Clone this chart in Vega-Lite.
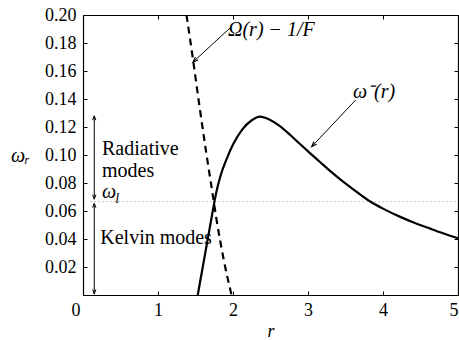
{
  "$schema": "https://vega.github.io/schema/vega-lite/v6.json",
  "width": 375,
  "height": 280,
  "autosize": "none",
  "padding": {"left": 83, "top": 15, "right": 1, "bottom": 45},
  "background": "white",
  "config": {
    "view": {"stroke": null},
    "text": {"font": "Liberation Serif, Times New Roman, serif"},
    "axis": {"labelFont": "Liberation Serif, Times New Roman, serif", "titleFont": "Liberation Serif, Times New Roman, serif", "labelFontSize": 18, "labelColor": "black", "domainColor": "black", "tickColor": "black", "grid": false, "domainWidth": 1.2, "tickWidth": 1}
  },
  "datasets": {
    "omega": [
      {"r": 1.53, "w": 0.0},
      {"r": 1.6, "w": 0.021},
      {"r": 1.67, "w": 0.042},
      {"r": 1.72, "w": 0.057},
      {"r": 1.75, "w": 0.066},
      {"r": 1.78, "w": 0.074},
      {"r": 1.83, "w": 0.0845},
      {"r": 1.91, "w": 0.0965},
      {"r": 2.0, "w": 0.1075},
      {"r": 2.12, "w": 0.118},
      {"r": 2.25, "w": 0.1248},
      {"r": 2.36, "w": 0.1274},
      {"r": 2.49, "w": 0.1252},
      {"r": 2.63, "w": 0.1205},
      {"r": 2.76, "w": 0.1145},
      {"r": 2.89, "w": 0.108},
      {"r": 3.03, "w": 0.1012},
      {"r": 3.16, "w": 0.095},
      {"r": 3.29, "w": 0.0888},
      {"r": 3.43, "w": 0.0826},
      {"r": 3.56, "w": 0.0772},
      {"r": 3.69, "w": 0.072},
      {"r": 3.83, "w": 0.0668},
      {"r": 4.0, "w": 0.0617},
      {"r": 4.23, "w": 0.0558},
      {"r": 4.4, "w": 0.052},
      {"r": 4.63, "w": 0.0474},
      {"r": 4.8, "w": 0.0441},
      {"r": 5.0, "w": 0.0405}
    ],
    "omegaF": [
      {"r": 1.38, "w": 0.2},
      {"r": 1.47, "w": 0.167},
      {"r": 1.55, "w": 0.136},
      {"r": 1.645, "w": 0.101},
      {"r": 1.74, "w": 0.068},
      {"r": 1.78, "w": 0.054},
      {"r": 1.87, "w": 0.027},
      {"r": 1.98, "w": 0.0}
    ],
    "level": [{"r": 0.1, "w": 0.0667}, {"r": 5.0, "w": 0.0667}],
    "arrows": [
      {"id": "rad", "r": 0.15, "w": 0.0683},
      {"id": "rad", "r": 0.15, "w": 0.128},
      {"id": "kel", "r": 0.15, "w": 0.0005},
      {"id": "kel", "r": 0.15, "w": 0.065},
      {"id": "lab1", "r": 1.96, "w": 0.1907},
      {"id": "lab1", "r": 1.467, "w": 0.1664},
      {"id": "lab2", "r": 3.636, "w": 0.1393},
      {"id": "lab2", "r": 3.05, "w": 0.106}
    ],
    "headsUp": [{"r": 0.15, "w": 0.128}, {"r": 0.15, "w": 0.0655}],
    "headsDown": [{"r": 0.15, "w": 0.0685}, {"r": 0.15, "w": 0.0008}],
    "headLab1": [{"r": 1.467, "w": 0.1664}],
    "headLab2": [{"r": 3.05, "w": 0.106}],
    "texts": [
      {"r": 0.253, "w": 0.1, "label": "Radiative"},
      {"r": 0.253, "w": 0.0845, "label": "modes"},
      {"r": 0.23, "w": 0.0364, "label": "Kelvin modes"}
    ],
    "itexts": [
      {"r": 1.933, "w": 0.185, "label": "Ω(r) − 1/F"},
      {"r": 3.6, "w": 0.1407, "label": "ω⁻(r)"},
      {"r": 0.253, "w": 0.0693, "label": "ω"}
    ],
    "sub": [{"r": 0.43, "w": 0.0655, "label": "l"}]
  },
  "layer": [
    {
      "data": {"name": "level"},
      "mark": {"type": "line", "color": "#8c8c8c", "strokeWidth": 1, "strokeDash": [1, 3]},
      "encoding": {
        "x": {"field": "r", "type": "quantitative", "scale": {"domain": [0, 5], "nice": false},
          "axis": {"orient": "bottom", "values": [0, 1, 2, 3, 4, 5], "format": "d", "tickSize": -4, "labelPadding": 10,
            "labelOffset": {"condition": {"test": "datum.value === 0", "value": -12}, "value": 0},
            "title": "r", "titleFontStyle": "italic", "titleFontWeight": "normal", "titleFontSize": 18, "titleY": 41, "titleBaseline": "alphabetic"}},
        "y": {"field": "w", "type": "quantitative", "scale": {"domain": [0, 0.2], "nice": false},
          "axis": {"orient": "left", "values": [0.02, 0.04, 0.06, 0.08, 0.1, 0.12, 0.14, 0.16, 0.18, 0.2], "format": ".2f", "tickSize": -4, "labelPadding": 11,
            "title": "ωᵣ", "titleAngle": 0, "titleFontSize": 20, "titleFontWeight": "normal", "titleFontStyle": "italic", "titleX": -63, "titleY": 140, "titleAlign": "center", "titleBaseline": "middle"}}
      }
    },
    {
      "data": {"name": "omega"},
      "mark": {"type": "line", "color": "black", "strokeWidth": 2.2, "interpolate": "monotone"},
      "encoding": {
        "x": {"field": "r", "type": "quantitative",
          "axis": {"orient": "top", "values": [0, 1, 2, 3, 4, 5], "labels": false, "tickSize": -4, "title": null}},
        "y": {"field": "w", "type": "quantitative",
          "axis": {"orient": "right", "values": [0.02, 0.04, 0.06, 0.08, 0.1, 0.12, 0.14, 0.16, 0.18, 0.2], "labels": false, "tickSize": -4, "title": null}}
      }
    },
    {
      "data": {"name": "omegaF"},
      "mark": {"type": "line", "color": "black", "strokeWidth": 2.2, "strokeDash": [7, 5], "interpolate": "monotone", "clip": true},
      "encoding": {"x": {"field": "r", "type": "quantitative", "axis": null}, "y": {"field": "w", "type": "quantitative", "axis": null}}
    },
    {
      "data": {"name": "arrows"},
      "mark": {"type": "line", "color": "black", "strokeWidth": 1},
      "encoding": {"x": {"field": "r", "type": "quantitative", "axis": null}, "y": {"field": "w", "type": "quantitative", "axis": null}, "detail": {"field": "id"}}
    },
    {
      "data": {"name": "headsUp"},
      "mark": {"type": "point", "shape": "M-0.6,1.6L0,0L0.6,1.6", "filled": false, "color": "black", "strokeWidth": 1, "size": 30, "angle": 0, "opacity": 1},
      "encoding": {"x": {"field": "r", "type": "quantitative", "axis": null}, "y": {"field": "w", "type": "quantitative", "axis": null}}
    },
    {
      "data": {"name": "headsDown"},
      "mark": {"type": "point", "shape": "M-0.6,1.6L0,0L0.6,1.6", "filled": false, "color": "black", "strokeWidth": 1, "size": 30, "angle": 180, "opacity": 1},
      "encoding": {"x": {"field": "r", "type": "quantitative", "axis": null}, "y": {"field": "w", "type": "quantitative", "axis": null}}
    },
    {
      "data": {"name": "headLab1"},
      "mark": {"type": "point", "shape": "M-0.6,1.6L0,0L0.6,1.6", "filled": false, "color": "black", "strokeWidth": 1.2, "size": 40, "angle": 227, "opacity": 1},
      "encoding": {"x": {"field": "r", "type": "quantitative", "axis": null}, "y": {"field": "w", "type": "quantitative", "axis": null}}
    },
    {
      "data": {"name": "headLab2"},
      "mark": {"type": "point", "shape": "M-0.6,1.6L0,0L0.6,1.6", "filled": false, "color": "black", "strokeWidth": 1.2, "size": 40, "angle": 224, "opacity": 1},
      "encoding": {"x": {"field": "r", "type": "quantitative", "axis": null}, "y": {"field": "w", "type": "quantitative", "axis": null}}
    },
    {
      "data": {"name": "texts"},
      "mark": {"type": "text", "fontSize": 20, "align": "left", "baseline": "alphabetic", "color": "black"},
      "encoding": {"x": {"field": "r", "type": "quantitative", "axis": null}, "y": {"field": "w", "type": "quantitative", "axis": null}, "text": {"field": "label"}}
    },
    {
      "data": {"name": "itexts"},
      "mark": {"type": "text", "fontSize": 20, "fontStyle": "italic", "align": "left", "baseline": "alphabetic", "color": "black"},
      "encoding": {"x": {"field": "r", "type": "quantitative", "axis": null}, "y": {"field": "w", "type": "quantitative", "axis": null}, "text": {"field": "label"}}
    },
    {
      "data": {"name": "sub"},
      "mark": {"type": "text", "fontSize": 14, "fontStyle": "italic", "align": "left", "baseline": "alphabetic", "color": "black"},
      "encoding": {"x": {"field": "r", "type": "quantitative", "axis": null}, "y": {"field": "w", "type": "quantitative", "axis": null}, "text": {"field": "label"}}
    }
  ],
  "resolve": {"axis": {"x": "independent", "y": "independent"}}
}
